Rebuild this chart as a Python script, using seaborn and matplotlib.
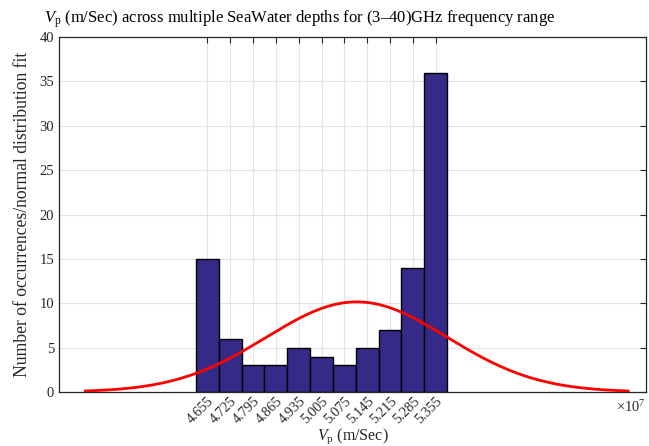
import numpy as np
import pandas as pd
import matplotlib
matplotlib.use("Agg")
import matplotlib.pyplot as plt
import seaborn as sns

# Phase velocity histogram (values in units of 1e7 m/s)
bin_centers = [4.655, 4.725, 4.795, 4.865, 4.935, 5.005, 5.075, 5.145, 5.215, 5.285, 5.355]
counts = [15, 6, 3, 3, 5, 4, 3, 5, 7, 14, 36]
tick_labels = ["4.655", "4.725", "4.795", "4.865", "4.935", "5.005",
               "5.075", "5.145", "5.215", "5.285", "5.355"]
bin_width = 0.07

# Normal distribution fit parameters (units of 1e7 m/s)
fit_mu = 5.113
fit_sigma = 0.2777

sns.set_theme(style="white")
plt.rcParams["font.family"] = ["Liberation Serif", "DejaVu Serif"]
plt.rcParams["mathtext.fontset"] = "custom"
plt.rcParams["mathtext.rm"] = "Liberation Serif"
plt.rcParams["mathtext.it"] = "Liberation Serif:italic"

scale = 1e7
df = pd.DataFrame({"vp": np.array(bin_centers) * scale, "n": counts})
edges = [float(e) * scale for e in
         np.concatenate([[bin_centers[0] - bin_width / 2],
                         np.array(bin_centers) + bin_width / 2])]

fig = plt.figure(figsize=(6.49, 4.46), dpi=100)
ax = fig.add_axes([59 / 649, 1 - 392 / 446, (646 - 59) / 649, (392 - 37) / 446])

sns.histplot(data=df, x="vp", weights="n", bins=edges, ax=ax,
             color="#352A87", alpha=1.0, edgecolor="black", linewidth=1.0,
             zorder=2)

# Fitted normal curve over mu +/- 3 sigma, scaled to counts
n_total = sum(counts)
xs = np.linspace(fit_mu - 3 * fit_sigma, fit_mu + 3 * fit_sigma, 200)
pdf = n_total * bin_width / (fit_sigma * np.sqrt(2 * np.pi)) * \
    np.exp(-0.5 * ((xs - fit_mu) / fit_sigma) ** 2)
sns.lineplot(x=xs * scale, y=pdf, ax=ax, color="red", linewidth=2.0,
             zorder=3)

ax.set_xlim(4.2 * scale, 6.0 * scale)
ax.set_ylim(0, 40)
ax.set_xticks(np.array(bin_centers) * scale)
ax.set_xticklabels(tick_labels, rotation=45, ha="right", rotation_mode="anchor",
                   fontsize=10.2)
ax.set_yticks(range(0, 41, 5))
ax.set_yticklabels([str(v) for v in range(0, 41, 5)], fontsize=10.5)

ax.grid(True, color="#E3E3E3", linewidth=0.8, zorder=0)
ax.set_axisbelow(True)
ax.tick_params(direction="in", length=4, width=0.8, colors="#262626",
               top=True, right=True)
ax.tick_params(axis="x", pad=2)
for s in ax.spines.values():
    s.set_color("#262626")
    s.set_linewidth(0.9)

ax.set_xlabel(r"$V_\mathrm{p}$ (m/Sec)", fontsize=11.5, color="#262626")
ax.xaxis.set_label_coords(0.5, -0.097)
ax.set_ylabel("Number of occurrences/normal distribution fit", fontsize=12.7,
              labelpad=6, color="#262626")
ax.text(1.0, -0.02, r"$\times10^{7}$", transform=ax.transAxes, ha="right",
        va="top", fontsize=10.5, color="#262626")

fig.text(300 / 649, 1 - 19 / 446,
         r"$V_\mathrm{p}$ (m/Sec) across multiple SeaWater depths for (3–40)GHz frequency range",
         ha="center", va="center", fontsize=12, color="black")

fig.savefig("out.png", dpi=100)
